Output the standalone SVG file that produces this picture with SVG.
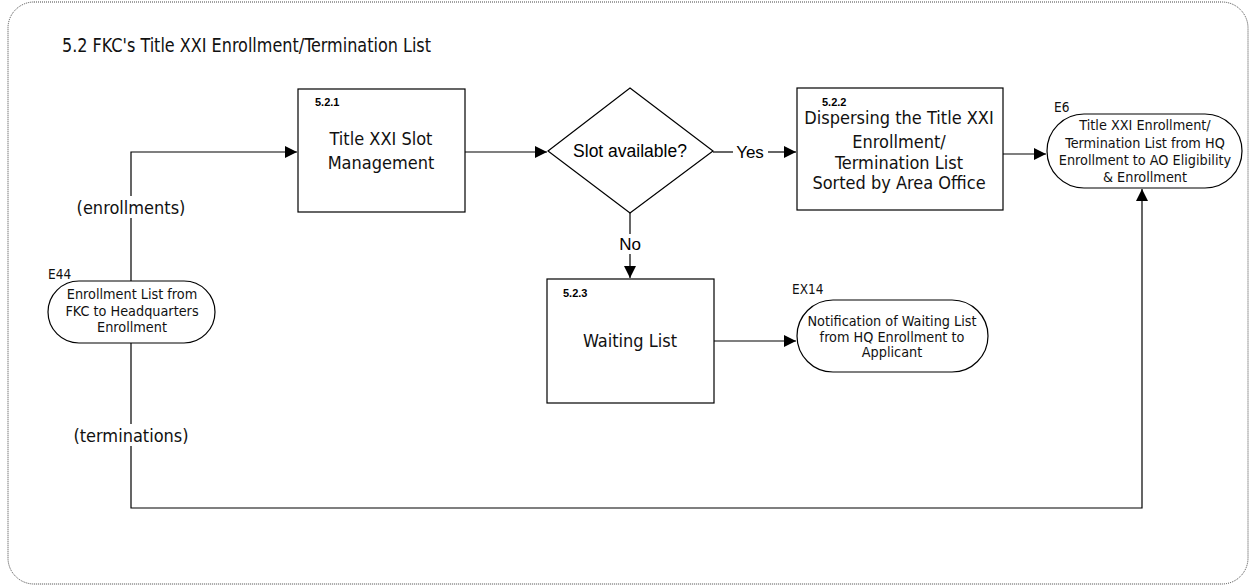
<svg xmlns="http://www.w3.org/2000/svg" width="1254" height="586" viewBox="0 0 1254 586">
<style>
.frame{fill:none;stroke:#444;stroke-width:1;stroke-dasharray:1 1}
.box{fill:#fff;stroke:#000;stroke-width:1.2}
.ln{fill:none;stroke:#000;stroke-width:1.2}
.t{font-family:"DejaVu Sans Condensed","DejaVu Sans",sans-serif;font-stretch:condensed;fill:#111}
.s{font-size:14.3px}
.a{font-family:"Liberation Sans",Arial,sans-serif;fill:#000}
.id{font-family:"Liberation Sans",Arial,sans-serif;font-weight:bold;font-size:11px;fill:#000}
</style>
<defs>
<marker id="arr" viewBox="0 0 10 10" refX="10" refY="5" markerWidth="12" markerHeight="12" markerUnits="userSpaceOnUse" orient="auto"><path d="M0,0L10,5L0,10z" fill="#000"/></marker>
</defs>
<rect class="frame" x="8" y="2" width="1240" height="582" rx="26"/>
<text class="t" x="62" y="52" font-size="19" textLength="369" lengthAdjust="spacingAndGlyphs">5.2 FKC's Title XXI Enrollment/Termination List</text>

<g id="connectors">
<path class="ln" d="M131,281 V152 H297" marker-end="url(#arr)"/>
<path class="ln" d="M131,343 V508 H1142 V189" marker-end="url(#arr)"/>
<path class="ln" d="M465,152 H547" marker-end="url(#arr)"/>
<path class="ln" d="M713,152 H733"/>
<path class="ln" d="M768,152 H796" marker-end="url(#arr)"/>
<path class="ln" d="M1003,154 H1046" marker-end="url(#arr)"/>
<path class="ln" d="M630,213 V234"/>
<path class="ln" d="M630,254 V278" marker-end="url(#arr)"/>
<path class="ln" d="M714,341 H796" marker-end="url(#arr)"/>
<rect x="72" y="196" width="118" height="22" fill="#fff"/>
<text class="t" x="131" y="214" font-size="18" text-anchor="middle">(enrollments)</text>
<rect x="78" y="424" width="106" height="22" fill="#fff"/>
<text class="t" x="131" y="442" font-size="18" text-anchor="middle">(terminations)</text>
<text class="a" x="750" y="158" font-size="17" text-anchor="middle">Yes</text>
<text class="a" x="630" y="250" font-size="17" text-anchor="middle">No</text>
</g>

<g id="n521">
<rect class="box" x="298" y="89" width="167" height="123"/>
<text class="id" x="315" y="106">5.2.1</text>
<text class="t" x="381" y="145" font-size="18" text-anchor="middle">Title XXI Slot</text>
<text class="t" x="381" y="169" font-size="18" text-anchor="middle">Management</text>
</g>

<g id="decision">
<path class="box" d="M630,88 L713,151 L630,213 L548,151 Z"/>
<text class="a" x="630" y="157" font-size="17.5" text-anchor="middle">Slot available?</text>
</g>

<g id="n522">
<rect class="box" x="797" y="88" width="206" height="122"/>
<text class="id" x="822" y="106">5.2.2</text>
<text class="t" x="899" y="124" font-size="18" text-anchor="middle">Dispersing the Title XXI</text>
<text class="t" x="899" y="148" font-size="18" text-anchor="middle">Enrollment/</text>
<text class="t" x="899" y="169" font-size="18" text-anchor="middle">Termination List</text>
<text class="t" x="899" y="189" font-size="18" text-anchor="middle">Sorted by Area Office</text>
</g>

<g id="e6">
<rect class="box" x="1047" y="114" width="195" height="74" rx="37"/>
<text class="t" x="1054" y="112" font-size="13.5">E6</text>
<text class="t s" x="1145" y="130" text-anchor="middle">Title XXI Enrollment/</text>
<text class="t s" x="1145" y="148" text-anchor="middle">Termination List from HQ</text>
<text class="t s" x="1145" y="165" text-anchor="middle">Enrollment to AO Eligibility</text>
<text class="t s" x="1145" y="182" text-anchor="middle">&amp; Enrollment</text>
</g>

<g id="e44">
<rect class="box" x="48" y="281" width="167" height="62" rx="31"/>
<text class="t" x="48" y="279" font-size="13.5">E44</text>
<text class="t s" x="132" y="299" text-anchor="middle">Enrollment List from</text>
<text class="t s" x="132" y="316" text-anchor="middle">FKC to Headquarters</text>
<text class="t s" x="132" y="332" text-anchor="middle">Enrollment</text>
</g>

<g id="n523">
<rect class="box" x="547" y="279" width="167" height="124"/>
<text class="id" x="563" y="297">5.2.3</text>
<text class="t" x="630" y="347" font-size="18" text-anchor="middle">Waiting List</text>
</g>

<g id="ex14">
<rect class="box" x="797" y="300" width="191" height="72" rx="36"/>
<text class="t" x="792" y="294" font-size="13.5">EX14</text>
<text class="t s" x="892" y="326" text-anchor="middle">Notification of Waiting List</text>
<text class="t s" x="892" y="342" text-anchor="middle">from HQ Enrollment to</text>
<text class="t s" x="892" y="357" text-anchor="middle">Applicant</text>
</g>
</svg>
